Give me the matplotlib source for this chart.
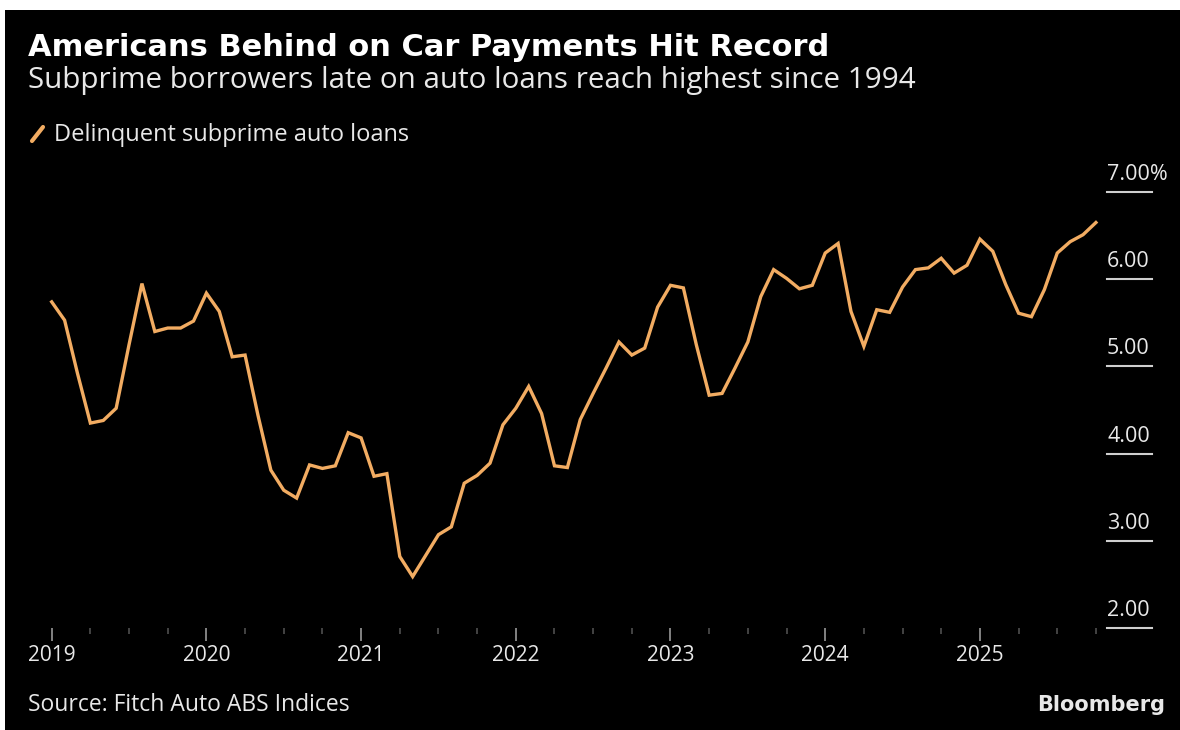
import matplotlib
matplotlib.use('Agg')
import matplotlib.pyplot as plt
from matplotlib.lines import Line2D
from matplotlib.patches import Rectangle
from matplotlib.transforms import blended_transform_factory
import numpy as np

# 60+ day delinquency, subprime auto ABS, monthly Jan 2019 - Oct 2025 (%)
start_year = 2019
delinquent = [5.74, 5.53, 4.92, 4.35, 4.38, 4.52, 5.25, 5.95, 5.40, 5.44, 5.44, 5.52,
              5.84, 5.63, 5.11, 5.13, 4.44, 3.81, 3.58, 3.49, 3.87, 3.83, 3.86, 4.24,
              4.18, 3.74, 3.77, 2.82, 2.59, 2.83, 3.07, 3.16, 3.66, 3.75, 3.89, 4.33,
              4.52, 4.77, 4.46, 3.86, 3.84, 4.39, 4.69, 4.98, 5.28, 5.13, 5.21, 5.68,
              5.93, 5.90, 5.25, 4.67, 4.69, 4.98, 5.28, 5.80, 6.11, 6.01, 5.89, 5.93,
              6.30, 6.41, 5.63, 5.23, 5.65, 5.62, 5.91, 6.11, 6.13, 6.24, 6.07, 6.16,
              6.46, 6.32, 5.94, 5.61, 5.57, 5.88, 6.30, 6.43, 6.51, 6.65]
year_ticks = [2019, 2020, 2021, 2022, 2023, 2024, 2025]
y_ticks = [2, 3, 4, 5, 6, 7]
y_labels = ['2.00', '3.00', '4.00', '5.00', '6.00', '7.00%']

plt.rcParams['font.family'] = ['Open Sans', 'DejaVu Sans']

W, H = 1180, 730
LINE = '#F2AC62'
TXT = '#E8E8E8'
GREY = '#8C8C8C'

fig = plt.figure(figsize=(W / 100, H / 100), dpi=100, facecolor='white')
fig.patches.append(Rectangle((5 / W, 0), 1, 720 / H, transform=fig.transFigure,
                             facecolor='black', edgecolor='none', zorder=-5))

# titles
fig.text(28 / W, 1 - 56 / H, 'Americans Behind on Car Payments Hit Record',
         family='DejaVu Sans', weight='bold', size=22, color='white')
fig.text(28 / W, 1 - 88 / H, 'Subprime borrowers late on auto loans reach highest since 1994',
         size=21.3, color=TXT)

# legend
fig.add_artist(Line2D([32 / W, 43 / W], [1 - 141 / H, 1 - 127 / H],
                      transform=fig.transFigure, color=LINE, lw=3, solid_capstyle='round'))
fig.text(54 / W, 1 - 141 / H, 'Delinquent subprime auto loans', size=17, color=TXT)

ax = fig.add_axes([40 / W, 1 - 628 / H, 1060 / W, (628 - 192) / H])
ax.set_facecolor('none')
for s in ax.spines.values():
    s.set_visible(False)

x = start_year + np.arange(len(delinquent)) / 12
ax.plot(x, delinquent, color=LINE, lw=2.4, solid_joinstyle='miter')

ax.set_xlim(2019 - 11.7 / 154.7, 2019 + 1060 / 154.7 - 11.7 / 154.7)
ax.set_ylim(2, 7)

ax.set_xticks(year_ticks)
ax.set_xticklabels([str(y) for y in year_ticks])
ax.set_xticks([t for t in np.arange(2019, 2025.8, 0.25) if t % 1 != 0], minor=True)
ax.tick_params(axis='x', which='major', length=9, width=1.3, color=GREY,
               labelsize=15, labelcolor=TXT, pad=3)
ax.tick_params(axis='x', which='minor', length=4, width=1.1, color='#555555')
ax.set_yticks([])

# right-hand value scale: short rules with labels sitting on top
trans = blended_transform_factory(ax.transAxes, ax.transData)
x0 = (1107 - 40) / 1060
x1 = (1152 - 40) / 1060
for v, lab in zip(y_ticks, y_labels):
    ax.plot([x0, x1], [v, v], transform=trans, color='#CFCFCF', lw=1.5, clip_on=False)
    ax.annotate(lab, xy=(x0, v), xycoords=trans, xytext=(0, 5), textcoords='offset points',
                ha='left', va='bottom', size=15.5, color=TXT)

# footer
fig.text(28 / W, 1 - 711 / H, 'Source: Fitch Auto ABS Indices', size=16.5, color=TXT)
fig.text(1165 / W, 1 - 711 / H, 'Bloomberg', family='DejaVu Sans', weight='bold',
         size=15, color=TXT, ha='right')

fig.savefig('out.png', dpi=100, facecolor=fig.get_facecolor())
